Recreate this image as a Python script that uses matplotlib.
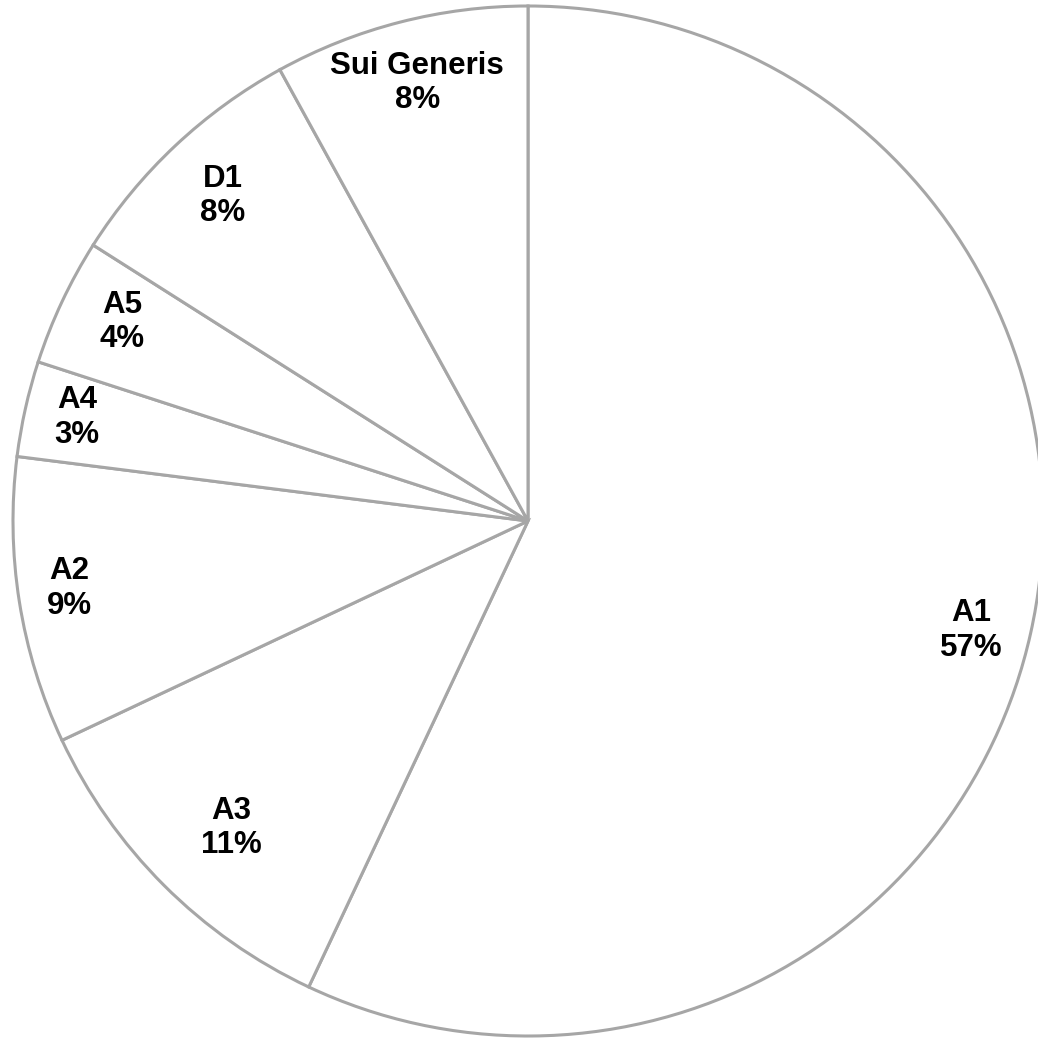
import numpy as np
import matplotlib
matplotlib.use("Agg")
import matplotlib.pyplot as plt

# use classes, clockwise from 12 o'clock
categories = ["A1", "A3", "A2", "A4", "A5", "D1", "Sui Generis"]
shares = [57, 11, 9, 3, 4, 8, 8]

# label placement: fraction of the radius, and a small turn off the mid-angle (deg)
label_dist = [0.887, 0.829, 0.90, 0.898, 0.878, 0.866, 0.877]
label_turn = [-1.3, 1.0, -0.6, -0.3, -0.9, 0.0, -0.2]

W = H = 1038
cx, cy, r = 528, H - 521, 515

plt.rcParams["font.family"] = ["Liberation Sans", "DejaVu Sans"]

fig = plt.figure(figsize=(W / 100, H / 100), dpi=100)
ax = fig.add_axes([0, 0, 1, 1])

wedges, _ = ax.pie(shares, startangle=90, counterclock=False,
                   center=(cx, cy), radius=r,
                   colors=["white"] * len(shares),
                   wedgeprops=dict(edgecolor="#a6a6a6", linewidth=2.2))

for w, name, val, d, t in zip(wedges, categories, shares, label_dist, label_turn):
    mid = np.deg2rad((w.theta1 + w.theta2) / 2 + t)
    x = cx + d * r * np.cos(mid)
    y = cy + d * r * np.sin(mid)
    ax.text(x, y, "%s\n%d%%" % (name, val), ha="center", va="center",
            fontsize=22.5, fontweight="bold", linespacing=1.2)

ax.set_xlim(0, W)
ax.set_ylim(0, H)
ax.set_aspect("equal")
ax.axis("off")

fig.savefig("out.png", dpi=100, facecolor="white")
